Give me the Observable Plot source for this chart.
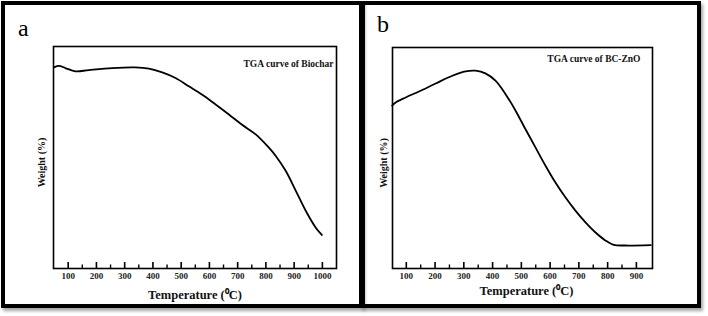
<!DOCTYPE html>
<html>
<head>
<meta charset="utf-8">
<script src="https://cdn.jsdelivr.net/npm/d3@7"></script>
<script src="https://cdn.jsdelivr.net/npm/@observablehq/plot@0.6"></script>
<style>
  html, body { margin: 0; padding: 0; background: #fff; }
  #wrap { position: relative; width: 708px; height: 316px; overflow: hidden; background: #fff; }
  .pane { position: absolute; }
  .box { position: absolute; box-sizing: border-box; border: 4px solid #000; box-shadow: 2px 3px 3px rgba(0,0,0,0.35); pointer-events: none; z-index: 5; }
  .tag { position: absolute; font-family: "Liberation Serif", serif; font-size: 24px; line-height: 1; color: #000; z-index: 6; }
</style>
</head>
<body>
<div id="wrap"></div>
<script>
// ---- data ----
const tempA   = [52, 67, 90, 126, 173, 256, 338, 386, 433, 480, 527, 575, 622, 669, 717, 764, 805, 835, 870, 906, 941, 976, 998];
const weightA = [90.7, 91.3, 90.3, 88.8, 89.4, 90.3, 90.6, 90.0, 88.3, 85.8, 82.1, 78.3, 73.9, 69.4, 64.6, 60.4, 55.2, 50.7, 44.0, 35.0, 26.0, 18.5, 15.1];

const tempB   = [51, 63, 98, 144, 202, 260, 306, 341, 375, 410, 445, 480, 514, 549, 584, 618, 653, 688, 723, 757, 792, 821, 862, 950];
const weightB = [73.7, 75.1, 77.4, 80.1, 83.7, 87.2, 89.2, 89.5, 88.3, 85.0, 78.9, 71.4, 63.1, 54.8, 46.5, 39.0, 32.2, 26.2, 20.9, 16.4, 12.7, 10.7, 10.4, 10.6];

const majorTicksA = [100, 200, 300, 400, 500, 600, 700, 800, 900, 1000];
const minorTicksA = [150, 250, 350, 450, 550, 650, 750, 850, 950];
const majorTicksB = [100, 200, 300, 400, 500, 600, 700, 800, 900];
const minorTicksB = [150, 250, 350, 450, 550, 650, 750, 850];

const titleA = "TGA curve of Biochar";
const titleB = "TGA curve of BC-ZnO";
const xLabel = "Temperature (\u2070C)";
const yLabel = "Weight (%)";
const panelTags = ["a", "b"];

// ---- drawing ----
const serif = "Liberation Serif, Times New Roman, serif";
const wrap = document.getElementById("wrap");
const yDomain = [0, 100];

function panel({temps, weights, xDomain, major, minor, title, titleDx, titleDy, xLabelDx, xLabelDy, yLabelDx, width, height, margins}) {
  const rows = temps.map((t, i) => ({t, w: weights[i]}));
  const innerH = height - margins.marginTop - margins.marginBottom;
  const perPx = (yDomain[1] - yDomain[0]) / innerH;   // data units per pixel, for tick length
  return Plot.plot({
    width, height,
    ...margins,
    style: {background: "transparent", overflow: "visible", maxWidth: "none"},
    x: {domain: xDomain},
    y: {domain: yDomain, axis: null},
    marks: [
      Plot.frame({stroke: "#000", strokeWidth: 1.6}),
      Plot.ruleX(major, {x: d => d, y1: yDomain[0], y2: yDomain[0] + 6 * perPx, stroke: "#000", strokeWidth: 1.6}),
      Plot.ruleX(minor, {x: d => d, y1: yDomain[0], y2: yDomain[0] + 3.5 * perPx, stroke: "#000", strokeWidth: 1.4}),
      Plot.axisX(major, {tickSize: 0, tickPadding: 4, label: null, tickFormat: d => String(d), fontSize: 9, fontWeight: "bold", fontFamily: serif, fill: "#222"}),
      Plot.line(rows, {x: "t", y: "w", stroke: "#000", strokeWidth: 1.8, curve: "catmull-rom"}),
      Plot.text([title], {frameAnchor: "top-right", textAnchor: "end", dx: titleDx, dy: titleDy, fontSize: 9.5, fontWeight: "bold", fontFamily: serif, fill: "#111"}),
      Plot.text([xLabel], {frameAnchor: "bottom", textAnchor: "middle", dx: xLabelDx, dy: xLabelDy, fontSize: 12.5, fontWeight: "bold", fontFamily: serif, fill: "#111"}),
      Plot.text([yLabel], {frameAnchor: "left", textAnchor: "middle", dx: yLabelDx, dy: 5, rotate: -90, fontSize: 10, fontWeight: "bold", fontFamily: serif, fill: "#111"})
    ]
  });
}

const chartA = panel({
  temps: tempA, weights: weightA, xDomain: [48, 1050], major: majorTicksA, minor: minorTicksA,
  title: titleA, titleDx: -3, titleDy: 14, xLabelDx: 0, xLabelDy: 30, yLabelDx: -12,
  width: 360, height: 310, margins: {marginLeft: 53, marginRight: 24, marginTop: 46, marginBottom: 42}
});
const chartB = panel({
  temps: tempB, weights: weightB, xDomain: [52, 956], major: majorTicksB, minor: minorTicksB,
  title: titleB, titleDx: -12, titleDy: 8, xLabelDx: 4, xLabelDy: 26, yLabelDx: -9,
  width: 345, height: 310, margins: {marginLeft: 31, marginRight: 54, marginTop: 47, marginBottom: 42}
});

const pa = document.createElement("div"); pa.className = "pane"; pa.style.left = "0px"; pa.style.top = "0px"; pa.appendChild(chartA); wrap.appendChild(pa);
const pb = document.createElement("div"); pb.className = "pane"; pb.style.left = "361px"; pb.style.top = "0px"; pb.appendChild(chartB); wrap.appendChild(pb);

const boxA = document.createElement("div"); boxA.className = "box";
Object.assign(boxA.style, {left: "1px", top: "1px", width: "362px", height: "307px"});
const boxB = document.createElement("div"); boxB.className = "box";
Object.assign(boxB.style, {left: "361px", top: "1px", width: "340px", height: "307px"});
wrap.appendChild(boxA); wrap.appendChild(boxB);

const tagA = document.createElement("div"); tagA.className = "tag"; tagA.textContent = panelTags[0];
Object.assign(tagA.style, {left: "18px", top: "16px"});
const tagB = document.createElement("div"); tagB.className = "tag"; tagB.textContent = panelTags[1];
Object.assign(tagB.style, {left: "377px", top: "12px"});
wrap.appendChild(tagA); wrap.appendChild(tagB);
</script>
</body>
</html>
